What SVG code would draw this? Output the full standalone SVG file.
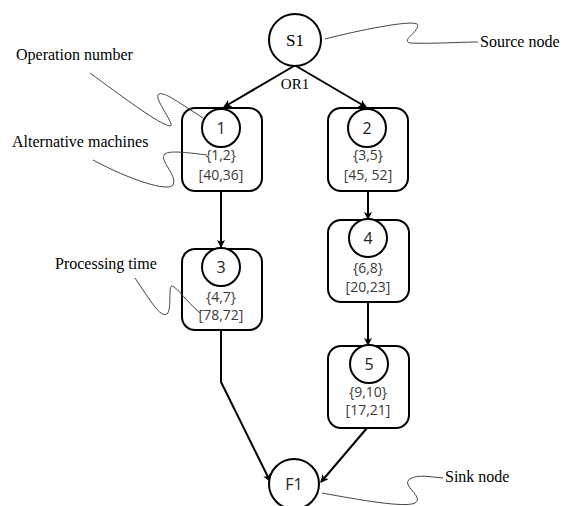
<svg xmlns="http://www.w3.org/2000/svg" width="568" height="506" viewBox="0 0 568 506">
<style>
.box{fill:#fff;stroke:#000;stroke-width:2}
.circ{fill:#fff;stroke:#000;stroke-width:2}
.num{font-family:"Open Sans","Noto Sans",sans-serif;font-size:16px;fill:#222;text-anchor:middle}
.attr{font-family:"Open Sans","Noto Sans",sans-serif;font-size:14px;fill:#3a3a3a;text-anchor:middle}
.ann{font-family:"Liberation Serif",serif;font-size:16px;fill:#000}
.edge{fill:none;stroke:#000;stroke-width:2}
.lead{fill:none;stroke:#444;stroke-width:1}
</style>
<defs>
<marker id="arr" markerWidth="8" markerHeight="8" refX="7" refY="4" orient="auto" markerUnits="userSpaceOnUse">
<path d="M0,0 L8,4 L0,8 L2,4 Z" fill="#000"/>
</marker>
</defs>
<g id="connectors">
<line class="edge" x1="294" y1="66" x2="224" y2="107" marker-end="url(#arr)"/>
<line class="edge" x1="296" y1="66" x2="366" y2="107" marker-end="url(#arr)"/>
<line class="edge" x1="221" y1="191" x2="221" y2="247" marker-end="url(#arr)"/>
<line class="edge" x1="368" y1="191" x2="368" y2="219" marker-end="url(#arr)"/>
<line class="edge" x1="368" y1="302" x2="368" y2="345" marker-end="url(#arr)"/>
<polyline class="edge" points="221,330 221,382 270,481" marker-end="url(#arr)"/>
<line class="edge" x1="367" y1="428" x2="321" y2="482" marker-end="url(#arr)"/>
</g>
<g id="S1">
<circle class="circ" cx="295" cy="40" r="26"/>
<text x="295" y="46" font-family="Liberation Serif,serif" font-size="17" text-anchor="middle">S1</text>
</g>
<text id="OR1" x="295" y="89" class="ann" text-anchor="middle" style="font-size:15px">OR1</text>
<g id="op1">
<rect class="box" x="182" y="108" width="80" height="83" rx="13"/>
<circle class="circ" cx="221" cy="128" r="19"/>
<text class="num" x="221" y="134">1</text>
<text class="attr" x="221" y="160">{1,2}</text>
<text class="attr" x="221" y="180">[40,36]</text>
</g>
<g id="op2">
<rect class="box" x="328" y="108" width="80" height="83" rx="13"/>
<circle class="circ" cx="367" cy="128" r="19"/>
<text class="num" x="367" y="134">2</text>
<text class="attr" x="368" y="160">{3,5}</text>
<text class="attr" x="368" y="180">[45, 52]</text>
</g>
<g id="op3">
<rect class="box" x="182" y="249" width="80" height="81" rx="13"/>
<circle class="circ" cx="221" cy="267" r="19"/>
<text class="num" x="221" y="273">3</text>
<text class="attr" x="221" y="302">{4,7}</text>
<text class="attr" x="221" y="320">[78,72]</text>
</g>
<g id="op4">
<rect class="box" x="328" y="220" width="81" height="82" rx="13"/>
<circle class="circ" cx="368" cy="238" r="19"/>
<text class="num" x="368" y="244">4</text>
<text class="attr" x="368" y="273">{6,8}</text>
<text class="attr" x="368" y="292">[20,23]</text>
</g>
<g id="op5">
<rect class="box" x="328" y="346" width="81" height="82" rx="13"/>
<circle class="circ" cx="369" cy="364" r="19"/>
<text class="num" x="369" y="370">5</text>
<text class="attr" x="368" y="397">{9,10}</text>
<text class="attr" x="368" y="415">[17,21]</text>
</g>
<g id="F1">
<circle class="circ" cx="294" cy="484" r="25"/>
<text class="num" x="294" y="490">F1</text>
</g>
<g id="annotations">
<text class="ann" x="16" y="60">Operation number</text>
<path class="lead" d="M90,73 C120,95 160,125 170,126 C176,126 155,100 158,95 C162,90 175,100 203,118"/>
<text class="ann" x="12" y="147">Alternative machines</text>
<path class="lead" d="M93,160 C130,180 168,192 173,185 C178,175 158,160 165,154 C170,150 190,153 207,155"/>
<text class="ann" x="55" y="269">Processing time</text>
<path class="lead" d="M135,278 C150,300 160,318 167,314 C172,310 168,285 172,286 C178,288 185,300 200,313"/>
<text class="ann" x="480" y="47">Source node</text>
<path class="lead" d="M325,39 C360,30 410,20 417,24 C422,30 400,40 410,43 C430,44 460,42 478,42"/>
<text class="ann" x="445" y="482">Sink node</text>
<path class="lead" d="M322,493 C360,500 405,508 415,503 C425,497 400,485 410,479 C418,474 430,477 443,478"/>
</g>
</svg>
